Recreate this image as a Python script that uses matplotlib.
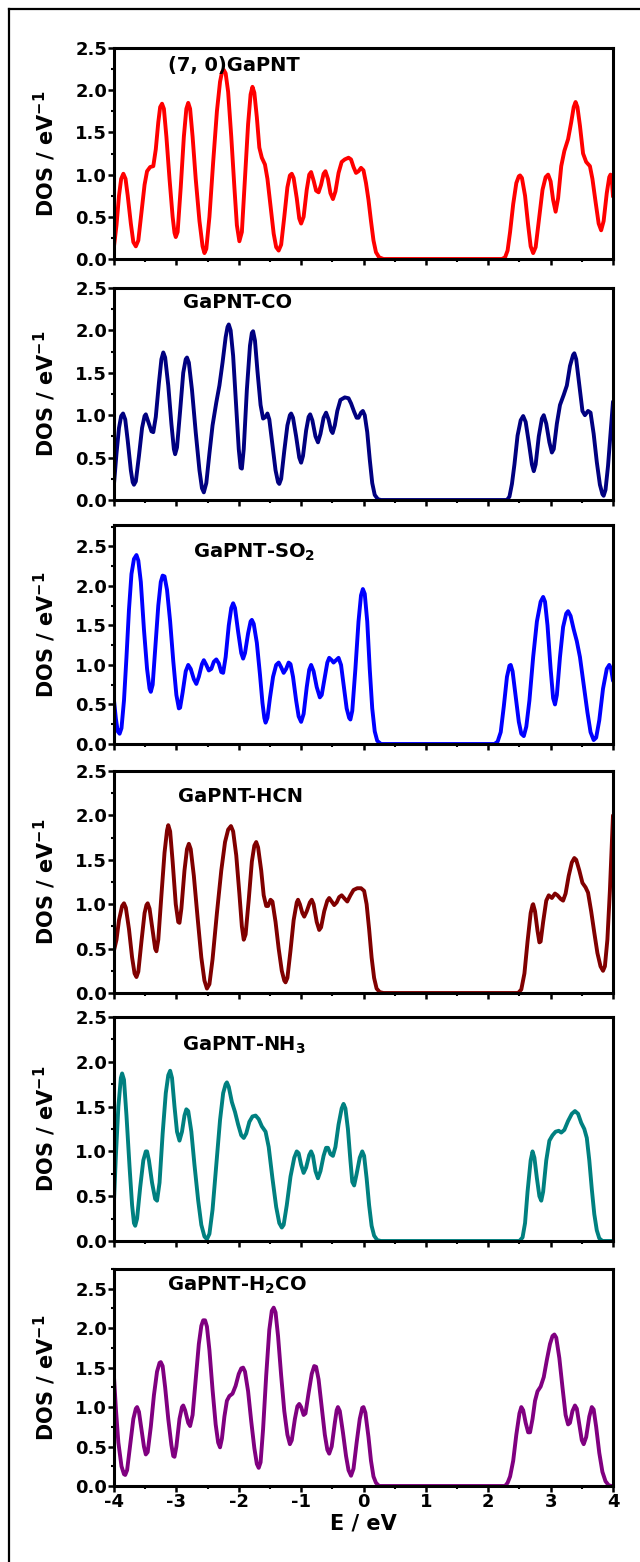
import numpy as np
import matplotlib
matplotlib.use("Agg")
import matplotlib.pyplot as plt
from matplotlib.lines import Line2D
from matplotlib.ticker import MultipleLocator, FormatStrFormatter

plt.rcParams.update({"font.family": "DejaVu Sans", "font.weight": "bold",
                     "axes.unicode_minus": False, "mathtext.default": "bf"})

# (E, DOS) points, one list per panel
dos_pure = [(-4.00, 0.15), (-3.96, 0.40), (-3.92, 0.75), (-3.885, 0.95), (-3.85, 1.01), (-3.815, 0.95),
            (-3.78, 0.75), (-3.73, 0.42), (-3.69, 0.20), (-3.65, 0.15), (-3.61, 0.22), (-3.56, 0.55),
            (-3.51, 0.88), (-3.47, 1.04), (-3.42, 1.09), (-3.37, 1.10), (-3.33, 1.30), (-3.29, 1.62),
            (-3.26, 1.80), (-3.23, 1.84), (-3.20, 1.78), (-3.16, 1.45), (-3.11, 0.95), (-3.06, 0.50),
            (-3.03, 0.31), (-3.01, 0.26), (-2.98, 0.32), (-2.93, 0.85), (-2.88, 1.45), (-2.84, 1.78),
            (-2.81, 1.85), (-2.78, 1.78), (-2.74, 1.45), (-2.69, 0.95), (-2.63, 0.45), (-2.58, 0.15),
            (-2.55, 0.07), (-2.52, 0.12), (-2.47, 0.50), (-2.41, 1.15), (-2.35, 1.75), (-2.30, 2.10),
            (-2.27, 2.21), (-2.24, 2.24), (-2.21, 2.20), (-2.17, 1.98), (-2.12, 1.45), (-2.07, 0.85),
            (-2.03, 0.40), (-1.99, 0.21), (-1.95, 0.32), (-1.90, 0.95), (-1.85, 1.60), (-1.81, 1.95),
            (-1.78, 2.04), (-1.75, 1.97), (-1.71, 1.68), (-1.67, 1.32), (-1.63, 1.20), (-1.58, 1.12),
            (-1.54, 0.95), (-1.49, 0.62), (-1.44, 0.30), (-1.40, 0.14), (-1.36, 0.10), (-1.32, 0.17),
            (-1.27, 0.50), (-1.22, 0.85), (-1.18, 0.99), (-1.15, 1.01), (-1.12, 0.96), (-1.07, 0.72),
            (-1.03, 0.48), (-1.00, 0.42), (-0.96, 0.50), (-0.91, 0.82), (-0.87, 1.00), (-0.84, 1.03),
            (-0.80, 0.93), (-0.76, 0.81), (-0.72, 0.79), (-0.68, 0.88), (-0.64, 1.01), (-0.61, 1.04),
            (-0.57, 0.95), (-0.53, 0.78), (-0.49, 0.71), (-0.45, 0.80), (-0.40, 1.02), (-0.35, 1.15),
            (-0.30, 1.18), (-0.24, 1.20), (-0.20, 1.18), (-0.16, 1.09), (-0.12, 1.02), (-0.08, 1.04),
            (-0.04, 1.08), (0.00, 1.05), (0.04, 0.90), (0.08, 0.70), (0.12, 0.45), (0.16, 0.22),
            (0.20, 0.08), (0.25, 0.02), (0.32, 0.0), (2.22, 0.0), (2.27, 0.02), (2.31, 0.10),
            (2.35, 0.32), (2.40, 0.65), (2.45, 0.90), (2.49, 0.98), (2.51, 0.99), (2.54, 0.96),
            (2.59, 0.75), (2.64, 0.40), (2.68, 0.15), (2.72, 0.07), (2.76, 0.14), (2.81, 0.45),
            (2.87, 0.82), (2.92, 0.97), (2.96, 1.00), (3.00, 0.92), (3.04, 0.70), (3.08, 0.56),
            (3.12, 0.72), (3.17, 1.10), (3.22, 1.28), (3.28, 1.42), (3.33, 1.62), (3.37, 1.80),
            (3.40, 1.86), (3.43, 1.80), (3.47, 1.58), (3.52, 1.25), (3.57, 1.15), (3.63, 1.10),
            (3.67, 0.95), (3.72, 0.68), (3.77, 0.42), (3.81, 0.34), (3.85, 0.45), (3.90, 0.78),
            (3.94, 0.97), (3.96, 1.00), (3.98, 0.95), (4.00, 0.74)]

dos_co = [(-4.00, 0.19), (-3.96, 0.55), (-3.92, 0.85), (-3.885, 0.99), (-3.855, 1.02), (-3.82, 0.95),
          (-3.78, 0.70), (-3.73, 0.35), (-3.70, 0.21), (-3.68, 0.18), (-3.65, 0.22), (-3.60, 0.52),
          (-3.55, 0.85), (-3.51, 0.99), (-3.49, 1.01), (-3.45, 0.92), (-3.40, 0.81), (-3.37, 0.80),
          (-3.33, 0.98), (-3.28, 1.38), (-3.24, 1.66), (-3.21, 1.74), (-3.18, 1.68), (-3.13, 1.35),
          (-3.08, 0.90), (-3.04, 0.60), (-3.02, 0.54), (-2.99, 0.62), (-2.94, 1.05), (-2.89, 1.50),
          (-2.85, 1.66), (-2.83, 1.68), (-2.80, 1.62), (-2.75, 1.30), (-2.69, 0.80), (-2.63, 0.35),
          (-2.59, 0.14), (-2.56, 0.09), (-2.52, 0.20), (-2.47, 0.55), (-2.42, 0.88), (-2.36, 1.15),
          (-2.31, 1.35), (-2.26, 1.62), (-2.21, 1.92), (-2.18, 2.04), (-2.16, 2.07), (-2.13, 2.00),
          (-2.09, 1.70), (-2.04, 1.10), (-2.00, 0.60), (-1.97, 0.38), (-1.95, 0.37), (-1.92, 0.60),
          (-1.87, 1.30), (-1.82, 1.82), (-1.79, 1.97), (-1.77, 1.99), (-1.74, 1.88), (-1.70, 1.52),
          (-1.65, 1.12), (-1.61, 0.96), (-1.57, 0.98), (-1.54, 1.02), (-1.51, 0.95), (-1.46, 0.65),
          (-1.41, 0.35), (-1.37, 0.21), (-1.35, 0.19), (-1.32, 0.25), (-1.27, 0.58), (-1.22, 0.88),
          (-1.18, 1.00), (-1.16, 1.02), (-1.13, 0.97), (-1.08, 0.75), (-1.03, 0.50), (-1.00, 0.44),
          (-0.97, 0.52), (-0.92, 0.82), (-0.88, 0.98), (-0.855, 1.01), (-0.82, 0.94), (-0.77, 0.75),
          (-0.73, 0.68), (-0.69, 0.78), (-0.64, 0.97), (-0.60, 1.03), (-0.56, 0.95), (-0.52, 0.82),
          (-0.495, 0.79), (-0.46, 0.88), (-0.42, 1.05), (-0.37, 1.18), (-0.30, 1.21), (-0.24, 1.20),
          (-0.20, 1.14), (-0.15, 1.04), (-0.11, 0.97), (-0.08, 0.97), (-0.04, 1.03), (-0.01, 1.05),
          (0.02, 1.00), (0.06, 0.80), (0.10, 0.48), (0.14, 0.20), (0.18, 0.06), (0.23, 0.01),
          (0.28, 0.0), (2.30, 0.0), (2.34, 0.04), (2.38, 0.19), (2.42, 0.42), (2.47, 0.76),
          (2.52, 0.94), (2.56, 0.99), (2.60, 0.92), (2.65, 0.68), (2.70, 0.42), (2.73, 0.34),
          (2.76, 0.42), (2.81, 0.75), (2.86, 0.96), (2.89, 1.00), (2.93, 0.90), (2.98, 0.68),
          (3.02, 0.56), (3.05, 0.60), (3.10, 0.90), (3.15, 1.12), (3.21, 1.24), (3.26, 1.35),
          (3.31, 1.58), (3.36, 1.71), (3.38, 1.73), (3.41, 1.66), (3.46, 1.36), (3.51, 1.05),
          (3.55, 1.00), (3.60, 1.05), (3.64, 1.03), (3.69, 0.78), (3.74, 0.45), (3.79, 0.18),
          (3.83, 0.07), (3.85, 0.05), (3.88, 0.12), (3.92, 0.40), (3.96, 0.78), (4.00, 1.16)]

dos_so2 = [(-4.00, 0.55), (-3.97, 0.32), (-3.94, 0.16), (-3.91, 0.13), (-3.88, 0.20), (-3.84, 0.55),
           (-3.80, 1.10), (-3.76, 1.70), (-3.72, 2.15), (-3.68, 2.34), (-3.64, 2.39), (-3.61, 2.32),
           (-3.57, 2.05), (-3.52, 1.45), (-3.47, 0.95), (-3.43, 0.70), (-3.41, 0.66), (-3.38, 0.75),
           (-3.34, 1.20), (-3.29, 1.75), (-3.25, 2.05), (-3.22, 2.13), (-3.19, 2.12), (-3.15, 1.95),
           (-3.10, 1.55), (-3.05, 1.05), (-3.00, 0.62), (-2.96, 0.45), (-2.94, 0.46), (-2.90, 0.65),
           (-2.85, 0.92), (-2.81, 1.00), (-2.77, 0.95), (-2.72, 0.82), (-2.68, 0.76), (-2.64, 0.85),
           (-2.59, 1.01), (-2.56, 1.06), (-2.52, 1.00), (-2.48, 0.93), (-2.44, 0.95), (-2.40, 1.04),
           (-2.36, 1.07), (-2.32, 1.02), (-2.28, 0.91), (-2.25, 0.90), (-2.21, 1.10), (-2.16, 1.50),
           (-2.12, 1.72), (-2.09, 1.78), (-2.06, 1.72), (-2.01, 1.42), (-1.96, 1.15), (-1.93, 1.08),
           (-1.90, 1.15), (-1.85, 1.40), (-1.81, 1.55), (-1.79, 1.57), (-1.76, 1.52), (-1.71, 1.28),
           (-1.66, 0.88), (-1.62, 0.52), (-1.59, 0.33), (-1.57, 0.27), (-1.54, 0.33), (-1.50, 0.58),
           (-1.45, 0.85), (-1.40, 1.00), (-1.36, 1.03), (-1.32, 0.97), (-1.28, 0.90), (-1.24, 0.95),
           (-1.20, 1.03), (-1.17, 1.01), (-1.13, 0.85), (-1.08, 0.55), (-1.04, 0.35), (-1.00, 0.28),
           (-0.96, 0.38), (-0.91, 0.72), (-0.87, 0.94), (-0.84, 1.00), (-0.80, 0.92), (-0.75, 0.72),
           (-0.70, 0.59), (-0.67, 0.62), (-0.62, 0.85), (-0.58, 1.03), (-0.55, 1.09), (-0.51, 1.06),
           (-0.48, 1.03), (-0.44, 1.06), (-0.40, 1.09), (-0.36, 1.00), (-0.31, 0.70), (-0.27, 0.45),
           (-0.23, 0.33), (-0.21, 0.31), (-0.18, 0.42), (-0.13, 0.95), (-0.08, 1.55), (-0.04, 1.88),
           (-0.01, 1.96), (0.02, 1.90), (0.06, 1.55), (0.10, 0.95), (0.14, 0.45), (0.18, 0.16),
           (0.22, 0.04), (0.28, 0.0), (2.10, 0.0), (2.15, 0.03), (2.20, 0.15), (2.25, 0.48),
           (2.30, 0.85), (2.34, 0.99), (2.36, 1.00), (2.39, 0.92), (2.44, 0.60), (2.49, 0.28),
           (2.53, 0.13), (2.57, 0.10), (2.61, 0.22), (2.66, 0.55), (2.72, 1.10), (2.78, 1.55),
           (2.84, 1.80), (2.88, 1.86), (2.91, 1.80), (2.95, 1.50), (3.00, 0.95), (3.04, 0.58),
           (3.07, 0.50), (3.10, 0.62), (3.15, 1.10), (3.20, 1.48), (3.25, 1.65), (3.28, 1.68),
           (3.32, 1.62), (3.37, 1.45), (3.42, 1.30), (3.47, 1.10), (3.53, 0.75), (3.59, 0.40),
           (3.64, 0.15), (3.69, 0.05), (3.73, 0.08), (3.78, 0.30), (3.84, 0.70), (3.90, 0.95),
           (3.94, 1.00), (3.97, 0.95), (4.00, 0.80)]

dos_hcn = [(-4.00, 0.48), (-3.96, 0.60), (-3.92, 0.82), (-3.87, 0.98), (-3.84, 1.01), (-3.81, 0.96),
           (-3.76, 0.72), (-3.71, 0.40), (-3.67, 0.22), (-3.64, 0.18), (-3.61, 0.24), (-3.56, 0.58),
           (-3.51, 0.90), (-3.48, 0.99), (-3.46, 1.01), (-3.43, 0.95), (-3.38, 0.70), (-3.34, 0.50),
           (-3.32, 0.47), (-3.29, 0.60), (-3.24, 1.10), (-3.19, 1.58), (-3.15, 1.83), (-3.13, 1.89),
           (-3.10, 1.82), (-3.06, 1.48), (-3.01, 1.00), (-2.97, 0.80), (-2.95, 0.79), (-2.92, 0.95),
           (-2.87, 1.38), (-2.83, 1.62), (-2.80, 1.68), (-2.77, 1.62), (-2.72, 1.32), (-2.66, 0.85),
           (-2.60, 0.40), (-2.55, 0.14), (-2.51, 0.05), (-2.47, 0.10), (-2.42, 0.38), (-2.35, 0.90),
           (-2.28, 1.38), (-2.22, 1.70), (-2.17, 1.84), (-2.125, 1.88), (-2.09, 1.82), (-2.04, 1.55),
           (-1.99, 1.12), (-1.95, 0.75), (-1.92, 0.60), (-1.89, 0.66), (-1.84, 1.05), (-1.79, 1.48),
           (-1.75, 1.66), (-1.72, 1.70), (-1.69, 1.64), (-1.64, 1.38), (-1.60, 1.10), (-1.56, 0.98),
           (-1.53, 0.98), (-1.49, 1.05), (-1.46, 1.03), (-1.41, 0.80), (-1.36, 0.50), (-1.31, 0.25),
           (-1.27, 0.14), (-1.25, 0.12), (-1.22, 0.17), (-1.17, 0.48), (-1.12, 0.82), (-1.07, 1.02),
           (-1.05, 1.05), (-1.02, 1.00), (-0.98, 0.90), (-0.95, 0.86), (-0.91, 0.92), (-0.86, 1.02),
           (-0.83, 1.05), (-0.80, 1.00), (-0.75, 0.80), (-0.71, 0.71), (-0.68, 0.74), (-0.63, 0.92),
           (-0.58, 1.04), (-0.55, 1.07), (-0.51, 1.03), (-0.47, 0.99), (-0.43, 1.02), (-0.39, 1.08),
           (-0.35, 1.10), (-0.30, 1.06), (-0.26, 1.03), (-0.21, 1.10), (-0.16, 1.16), (-0.10, 1.18),
           (-0.04, 1.18), (0.01, 1.15), (0.05, 1.00), (0.09, 0.72), (0.13, 0.40), (0.17, 0.17),
           (0.21, 0.05), (0.26, 0.01), (0.32, 0.0), (2.48, 0.0), (2.53, 0.04), (2.58, 0.22),
           (2.63, 0.58), (2.68, 0.90), (2.71, 0.99), (2.72, 1.00), (2.75, 0.92), (2.79, 0.70),
           (2.82, 0.57), (2.84, 0.58), (2.88, 0.80), (2.93, 1.04), (2.97, 1.10), (3.02, 1.07),
           (3.07, 1.12), (3.11, 1.10), (3.16, 1.06), (3.20, 1.04), (3.24, 1.12), (3.29, 1.32),
           (3.34, 1.47), (3.38, 1.52), (3.41, 1.50), (3.46, 1.38), (3.51, 1.24), (3.56, 1.19),
           (3.60, 1.13), (3.65, 0.92), (3.70, 0.68), (3.75, 0.45), (3.80, 0.30), (3.84, 0.25),
           (3.87, 0.30), (3.91, 0.60), (3.95, 1.15), (3.98, 1.65), (4.00, 2.00)]

dos_nh3 = [(-4.00, 0.45), (-3.97, 0.95), (-3.93, 1.50), (-3.89, 1.82), (-3.87, 1.87), (-3.84, 1.80),
           (-3.80, 1.40), (-3.75, 0.82), (-3.71, 0.40), (-3.68, 0.20), (-3.66, 0.17), (-3.63, 0.25),
           (-3.58, 0.60), (-3.53, 0.90), (-3.49, 1.00), (-3.47, 1.00), (-3.44, 0.90), (-3.39, 0.65),
           (-3.34, 0.47), (-3.31, 0.45), (-3.27, 0.65), (-3.22, 1.20), (-3.17, 1.65), (-3.13, 1.85),
           (-3.10, 1.90), (-3.07, 1.82), (-3.03, 1.50), (-2.99, 1.22), (-2.95, 1.12), (-2.91, 1.22),
           (-2.87, 1.40), (-2.84, 1.47), (-2.81, 1.45), (-2.76, 1.22), (-2.71, 0.85), (-2.65, 0.45),
           (-2.60, 0.18), (-2.55, 0.05), (-2.51, 0.02), (-2.47, 0.08), (-2.42, 0.35), (-2.36, 0.85),
           (-2.30, 1.35), (-2.25, 1.65), (-2.21, 1.75), (-2.19, 1.77), (-2.16, 1.72), (-2.11, 1.55),
           (-2.06, 1.44), (-2.01, 1.30), (-1.96, 1.18), (-1.92, 1.15), (-1.88, 1.20), (-1.83, 1.33),
           (-1.78, 1.39), (-1.73, 1.40), (-1.68, 1.36), (-1.63, 1.28), (-1.57, 1.22), (-1.52, 1.05),
           (-1.46, 0.70), (-1.40, 0.38), (-1.35, 0.20), (-1.31, 0.15), (-1.28, 0.18), (-1.23, 0.40),
           (-1.17, 0.72), (-1.11, 0.93), (-1.07, 1.00), (-1.04, 0.98), (-1.00, 0.85), (-0.96, 0.76),
           (-0.92, 0.82), (-0.87, 0.96), (-0.84, 1.00), (-0.81, 0.95), (-0.77, 0.78), (-0.73, 0.70),
           (-0.69, 0.78), (-0.64, 0.95), (-0.60, 1.04), (-0.57, 1.04), (-0.53, 0.97), (-0.49, 0.95),
           (-0.45, 1.05), (-0.40, 1.30), (-0.35, 1.48), (-0.32, 1.53), (-0.29, 1.48), (-0.25, 1.25),
           (-0.21, 0.90), (-0.18, 0.66), (-0.15, 0.62), (-0.11, 0.75), (-0.06, 0.93), (-0.02, 1.00),
           (0.01, 0.95), (0.05, 0.70), (0.09, 0.40), (0.13, 0.17), (0.17, 0.06), (0.22, 0.01),
           (0.28, 0.0), (2.50, 0.0), (2.55, 0.04), (2.59, 0.20), (2.63, 0.55), (2.68, 0.90),
           (2.71, 1.00), (2.74, 0.93), (2.78, 0.70), (2.82, 0.50), (2.85, 0.45), (2.88, 0.55),
           (2.93, 0.90), (2.98, 1.12), (3.03, 1.18), (3.08, 1.22), (3.13, 1.23), (3.17, 1.21),
           (3.22, 1.24), (3.28, 1.34), (3.34, 1.42), (3.39, 1.45), (3.44, 1.42), (3.49, 1.32),
           (3.54, 1.25), (3.58, 1.15), (3.62, 0.90), (3.66, 0.58), (3.70, 0.30), (3.74, 0.12),
           (3.78, 0.03), (3.83, 0.0), (4.00, 0.0)]

dos_h2co = [(-4.00, 1.38), (-3.97, 0.98), (-3.93, 0.55), (-3.88, 0.25), (-3.84, 0.15), (-3.82, 0.14),
            (-3.79, 0.20), (-3.74, 0.52), (-3.69, 0.85), (-3.65, 0.98), (-3.63, 1.00), (-3.60, 0.94),
            (-3.56, 0.72), (-3.52, 0.50), (-3.49, 0.40), (-3.46, 0.43), (-3.41, 0.75), (-3.36, 1.15),
            (-3.31, 1.45), (-3.27, 1.56), (-3.25, 1.57), (-3.22, 1.52), (-3.18, 1.25), (-3.13, 0.85),
            (-3.08, 0.52), (-3.05, 0.38), (-3.03, 0.37), (-3.00, 0.50), (-2.95, 0.85), (-2.91, 1.00),
            (-2.89, 1.02), (-2.86, 0.96), (-2.81, 0.80), (-2.78, 0.76), (-2.74, 0.90), (-2.69, 1.35),
            (-2.64, 1.80), (-2.60, 2.03), (-2.57, 2.10), (-2.54, 2.10), (-2.51, 2.02), (-2.47, 1.72),
            (-2.42, 1.22), (-2.37, 0.78), (-2.33, 0.55), (-2.30, 0.49), (-2.27, 0.60), (-2.23, 0.88),
            (-2.19, 1.08), (-2.15, 1.14), (-2.10, 1.17), (-2.05, 1.27), (-2.00, 1.42), (-1.96, 1.49),
            (-1.93, 1.50), (-1.90, 1.45), (-1.85, 1.20), (-1.80, 0.82), (-1.75, 0.48), (-1.71, 0.28),
            (-1.68, 0.23), (-1.65, 0.30), (-1.61, 0.72), (-1.56, 1.40), (-1.51, 1.98), (-1.47, 2.22),
            (-1.44, 2.26), (-1.41, 2.20), (-1.37, 1.90), (-1.32, 1.40), (-1.27, 0.95), (-1.22, 0.65),
            (-1.18, 0.53), (-1.15, 0.58), (-1.10, 0.85), (-1.06, 1.01), (-1.03, 1.04), (-1.00, 1.00),
            (-0.96, 0.90), (-0.93, 0.92), (-0.88, 1.18), (-0.83, 1.42), (-0.79, 1.52), (-0.76, 1.51),
            (-0.72, 1.35), (-0.67, 1.00), (-0.62, 0.65), (-0.58, 0.46), (-0.55, 0.41), (-0.51, 0.50),
            (-0.46, 0.80), (-0.43, 0.96), (-0.41, 1.00), (-0.38, 0.95), (-0.33, 0.68), (-0.28, 0.38),
            (-0.24, 0.20), (-0.20, 0.13), (-0.16, 0.22), (-0.11, 0.55), (-0.06, 0.85), (-0.02, 0.99),
            (0.00, 1.00), (0.03, 0.93), (0.08, 0.62), (0.12, 0.32), (0.16, 0.12), (0.20, 0.04),
            (0.25, 0.0), (2.27, 0.0), (2.31, 0.04), (2.35, 0.12), (2.40, 0.32), (2.45, 0.65),
            (2.50, 0.92), (2.53, 1.00), (2.56, 0.96), (2.60, 0.80), (2.64, 0.68), (2.67, 0.68),
            (2.71, 0.85), (2.75, 1.08), (2.79, 1.20), (2.84, 1.26), (2.89, 1.38), (2.94, 1.60),
            (2.99, 1.80), (3.03, 1.90), (3.06, 1.92), (3.09, 1.88), (3.14, 1.62), (3.19, 1.25),
            (3.24, 0.90), (3.28, 0.78), (3.31, 0.80), (3.35, 0.95), (3.39, 1.02), (3.42, 0.98),
            (3.46, 0.78), (3.50, 0.58), (3.53, 0.53), (3.57, 0.62), (3.62, 0.88), (3.66, 1.00),
            (3.69, 0.97), (3.73, 0.75), (3.78, 0.42), (3.83, 0.18), (3.88, 0.06), (3.93, 0.01),
            (3.97, 0.0), (4.00, 0.0)]

panels = [dos_pure, dos_co, dos_so2, dos_hcn, dos_nh3, dos_h2co]
names = ["(7, 0)GaPNT", "GaPNT-CO", r"GaPNT-SO$_{2}$", "GaPNT-HCN", r"GaPNT-NH$_{3}$", r"GaPNT-H$_{2}$CO"]
colors = ["#ff0000", "#000080", "#0000ff", "#800000", "#008080", "#800080"]
ytops = [2.5, 2.5, 2.77, 2.5, 2.5, 2.75]

W, H = 640, 1562
fig = plt.figure(figsize=(W / 100, H / 100), dpi=100)

# top/bottom pixel rows of each panel
rows = [(48, 259), (288, 500), (525, 744), (771, 993), (1017, 1241), (1269, 1486)]
x0, x1 = 114, 613
name_pos = [(168, 66), (183, 302), (193, 552), (178, 797), (182, 1045), (167, 1285)]

for i, (data, nm, c) in enumerate(zip(panels, names, colors)):
    top, bot = rows[i]
    ax = fig.add_axes([x0 / W, 1 - bot / H, (x1 - x0) / W, (bot - top) / H])
    e, d = np.array(data).T
    ax.plot(e, d, color=c, lw=2.8, solid_joinstyle="round", solid_capstyle="round")
    ax.set_xlim(-4, 4)
    ax.set_ylim(0, ytops[i])
    ax.xaxis.set_major_locator(MultipleLocator(1))
    ax.xaxis.set_minor_locator(MultipleLocator(0.5))
    ax.yaxis.set_major_locator(MultipleLocator(0.5))
    ax.yaxis.set_minor_locator(MultipleLocator(0.25))
    ax.yaxis.set_major_formatter(FormatStrFormatter("%.1f"))
    ax.tick_params(which="major", direction="out", length=4, width=1.8, labelsize=13, pad=1)
    ax.tick_params(which="minor", direction="out", length=2, width=1.5)
    for s in ax.spines.values():
        s.set_linewidth(2.2)
    if i < 5:
        ax.tick_params(axis="x", labelbottom=False)
    else:
        ax.set_xlabel("E / eV", fontsize=15, fontweight="bold", labelpad=2)
    ax.set_ylabel(r"DOS / eV$^{\mathrm{-1}}$", fontsize=15, fontweight="bold", va="center")
    ax.yaxis.set_label_coords(-0.138, 0.5)
    tx, ty = name_pos[i]
    ax.text((tx - x0) / (x1 - x0), 1 - (ty - top) / (bot - top), nm, transform=ax.transAxes,
            fontsize=14, fontweight="bold", ha="left", va="center")

# outer frame (runs off the right and bottom edges)
fy = 1 - 9 / H
fx = 9 / W
fig.add_artist(Line2D([fx, fx], [0, fy], color="black", lw=1.6, transform=fig.transFigure))
fig.add_artist(Line2D([fx, 1], [fy, fy], color="black", lw=1.6, transform=fig.transFigure))

fig.savefig("out.png", dpi=100)
